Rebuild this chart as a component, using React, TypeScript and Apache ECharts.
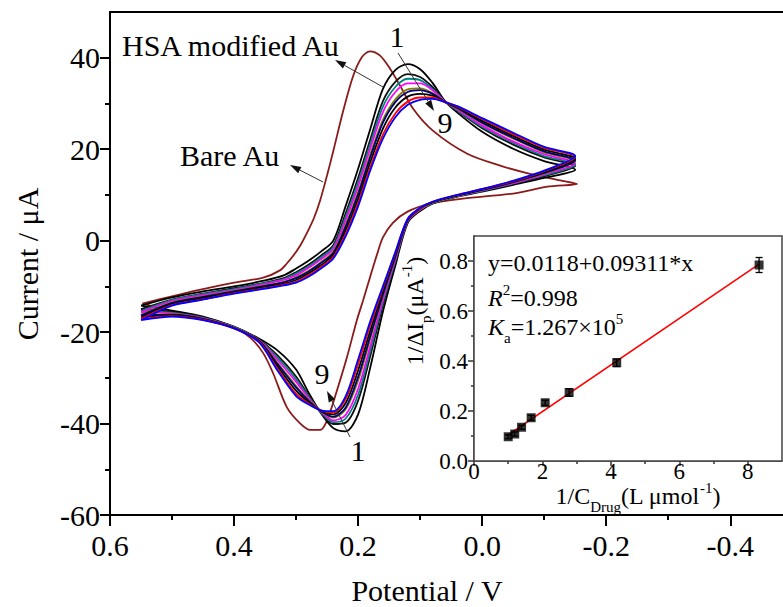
import React, { useEffect, useRef } from "react";
import * as echarts from "echarts";

const FONT = "'Liberation Serif', 'Times New Roman', serif";

// Potential steps (V) of the forward (anodic) and reverse (cathodic) sweeps
const anodicPotential = [0.55, 0.5, 0.45, 0.4, 0.35, 0.32, 0.3, 0.28, 0.26, 0.24, 0.22, 0.2, 0.18, 0.16, 0.14, 0.12, 0.1, 0.08, 0.06, 0.04, 0.0, -0.05, -0.1, -0.15];
const cathodicPotential = [-0.15, -0.1, -0.05, 0.0, 0.04, 0.08, 0.1, 0.12, 0.14, 0.16, 0.18, 0.2, 0.22, 0.24, 0.26, 0.28, 0.3, 0.33, 0.36, 0.4, 0.45, 0.5, 0.55];

// HSA modified Au electrode, scans 1..9 (current in uA)
const hsa1Anodic = [-14.2, -12.4, -11.1, -10.0, -8.7, -7.6, -6.1, -4.4, -2.4, 0.0, 7.6, 15.7, 24.6, 33.2, 37.3, 38.6, 37.5, 34.5, 30.5, 28.0, 23.8, 20.1, 17.4, 15.5];
const hsa1Cathodic = [15.5, 13.7, 12.2, 10.7, 9.6, 8.1, 6.5, 3.9, -5.5, -15.5, -27.5, -38.0, -41.7, -41.0, -37.7, -33.2, -28.2, -24.0, -21.4, -18.8, -16.6, -15.3, -14.2];
const hsa2Anodic = [-15.0, -12.9, -11.6, -10.4, -9.2, -8.2, -6.9, -5.3, -3.3, -1.0, 6.0, 13.7, 22.3, 30.5, 34.7, 36.4, 35.8, 33.6, 30.5, 28.4, 24.6, 21.0, 18.2, 16.3];
const hsa2Cathodic = [16.3, 14.1, 12.4, 10.9, 9.7, 8.2, 6.7, 4.1, -4.8, -14.1, -25.0, -35.0, -39.8, -40.1, -37.6, -33.9, -29.7, -25.1, -21.6, -18.9, -16.8, -15.6, -15.0];
const hsa3Anodic = [-15.4, -13.0, -11.7, -10.6, -9.3, -8.4, -7.2, -5.7, -3.7, -1.4, 5.2, 12.7, 21.3, 29.3, 33.6, 35.4, 35.1, 33.2, 30.4, 28.5, 24.9, 21.4, 18.5, 16.6];
const hsa3Cathodic = [16.6, 14.3, 12.5, 10.9, 9.7, 8.2, 6.8, 4.2, -4.4, -13.5, -23.9, -33.7, -38.9, -39.7, -37.5, -34.1, -30.3, -25.6, -21.7, -18.9, -16.9, -15.8, -15.4];
const hsa4Anodic = [-15.7, -13.2, -11.9, -10.8, -9.5, -8.6, -7.6, -6.0, -4.1, -1.8, 4.5, 11.8, 20.3, 28.1, 32.5, 34.4, 34.4, 32.9, 30.4, 28.7, 25.2, 21.7, 18.9, 16.9];
const hsa4Cathodic = [16.9, 14.5, 12.6, 11.0, 9.8, 8.3, 6.8, 4.3, -4.1, -12.9, -22.8, -32.4, -38.1, -39.3, -37.4, -34.4, -30.9, -26.1, -21.8, -19.0, -17.0, -15.9, -15.7];
const hsa5Anodic = [-16.2, -13.5, -12.2, -11.0, -9.8, -9.0, -8.0, -6.6, -4.7, -2.4, 3.5, 10.6, 19.0, 26.4, 30.9, 33.1, 33.3, 32.3, 30.4, 28.9, 25.7, 22.3, 19.3, 17.4];
const hsa5Cathodic = [17.4, 14.7, 12.8, 11.1, 9.8, 8.3, 6.9, 4.5, -3.6, -12.1, -21.3, -30.6, -36.9, -38.7, -37.3, -34.8, -31.8, -26.7, -21.9, -19.0, -17.1, -16.1, -16.2];
const hsa6Anodic = [-16.4, -13.6, -12.3, -11.1, -9.9, -9.1, -8.2, -6.8, -4.9, -2.7, 3.1, 10.1, 18.4, 25.8, 30.3, 32.5, 32.9, 32.1, 30.4, 29.0, 25.8, 22.5, 19.5, 17.5];
const hsa6Cathodic = [17.5, 14.8, 12.8, 11.1, 9.9, 8.4, 7.0, 4.5, -3.5, -11.8, -20.7, -29.8, -36.5, -38.5, -37.3, -35.0, -32.1, -27.0, -21.9, -19.1, -17.1, -16.2, -16.4];
const hsa7Anodic = [-16.8, -13.8, -12.5, -11.3, -10.1, -9.4, -8.6, -7.2, -5.4, -3.1, 2.3, 9.1, 17.3, 24.5, 29.1, 31.5, 32.1, 31.7, 30.3, 29.1, 26.2, 22.9, 19.9, 17.9];
const hsa7Cathodic = [17.9, 15.0, 12.9, 11.2, 9.9, 8.4, 7.1, 4.6, -3.1, -11.1, -19.5, -28.4, -35.5, -38.0, -37.2, -35.3, -32.8, -27.5, -22.0, -19.1, -17.2, -16.3, -16.8];
const hsa8Anodic = [-17.1, -14.1, -12.8, -11.5, -10.4, -9.6, -9.0, -7.6, -5.8, -3.6, 1.5, 8.2, 16.2, 23.2, 27.8, 30.4, 31.3, 31.3, 30.3, 29.3, 26.6, 23.3, 20.3, 18.3];
const hsa8Cathodic = [18.3, 15.2, 13.0, 11.3, 10.0, 8.5, 7.1, 4.7, -2.7, -10.4, -18.3, -27.0, -34.6, -37.6, -37.1, -35.6, -33.5, -28.0, -22.1, -19.2, -17.3, -16.5, -17.1];
const hsa9Anodic = [-17.4, -14.2, -12.9, -11.6, -10.5, -9.8, -9.2, -7.9, -6.1, -3.9, 1.0, 7.5, 15.5, 22.3, 27.0, 29.7, 30.8, 31.0, 30.3, 29.4, 26.8, 23.6, 20.5, 18.5];
const hsa9Cathodic = [18.5, 15.3, 13.1, 11.3, 10.0, 8.5, 7.2, 4.8, -2.5, -10.0, -17.5, -26.0, -34.0, -37.3, -37.1, -35.8, -34.0, -28.4, -22.2, -19.2, -17.4, -16.6, -17.4];

const hsaColors = ["#000000", "#111111", "#008080", "#ff00ff", "#808000", "#000080", "#000000", "#ff0000", "#0000ff"];

// Bare Au electrode, [potential V, current uA]
const bareAnodic = [
  [0.548, -13.8], [0.46, -10.9], [0.4, -9.2], [0.353, -8.1], [0.326, -6.5], [0.315, -5.0], [0.304, -3.2],
  [0.293, -1.0], [0.282, 1.8], [0.271, 5.0], [0.261, 8.9], [0.25, 14.3], [0.24, 19.6], [0.224, 28.4],
  [0.208, 36.0], [0.194, 40.1], [0.181, 41.4], [0.165, 40.5], [0.148, 37.5], [0.132, 33.8], [0.111, 28.8],
  [0.079, 24.0], [0.024, 19.0], [-0.029, 16.4], [-0.077, 14.6], [-0.121, 13.3], [-0.153, 12.4],
];
const bareCathodic = [
  [-0.153, 12.4], [-0.105, 11.8], [-0.05, 10.3], [0.031, 9.2], [0.084, 8.1], [0.121, 6.3], [0.144, 3.9],
  [0.16, 0.7], [0.169, -2.8], [0.181, -8.1], [0.192, -13.1], [0.202, -17.4], [0.218, -25.5], [0.234, -32.7],
  [0.25, -39.3], [0.261, -41.4], [0.277, -41.4], [0.294, -39.9], [0.315, -36.4], [0.337, -29.0],
  [0.353, -24.6], [0.374, -21.2], [0.402, -19.0], [0.455, -16.8], [0.503, -15.3], [0.548, -13.8],
];

// Main axes ticks
const potentialTicks = [0.6, 0.4, 0.2, 0.0, -0.2, -0.4];
const potentialMinorTicks = [0.5, 0.3, 0.1, -0.1, -0.3];
const currentTicks = [-60, -40, -20, 0, 20, 40];
const currentMinorTicks = [-50, -30, -10, 10, 30];

// Inset: double-reciprocal plot
const inverseConc = [1.0, 1.19, 1.39, 1.67, 2.08, 2.78, 4.17, 8.33];
const inversePeakCurrent = [0.097, 0.108, 0.135, 0.173, 0.233, 0.274, 0.393, 0.784];
const peakCurrentError = [0.008, 0.008, 0.008, 0.01, 0.01, 0.015, 0.015, 0.03];
const FIT_INTERCEPT = 0.0118;
const FIT_SLOPE = 0.09311;
const fitRange = [0.95, 8.33];
const insetXTicks = [0, 2, 4, 6, 8];
const insetXMinorTicks = [1, 3, 5, 7];
const insetYTicks = [0, 0.2, 0.4, 0.6, 0.8];
const insetYMinorTicks = [0.1, 0.3, 0.5, 0.7];

const hsaScans = [
  [hsa1Anodic, hsa1Cathodic], [hsa2Anodic, hsa2Cathodic], [hsa3Anodic, hsa3Cathodic],
  [hsa4Anodic, hsa4Cathodic], [hsa5Anodic, hsa5Cathodic], [hsa6Anodic, hsa6Cathodic],
  [hsa7Anodic, hsa7Cathodic], [hsa8Anodic, hsa8Cathodic], [hsa9Anodic, hsa9Cathodic],
];

function loop(anodic: number[], cathodic: number[]) {
  return [
    ...anodicPotential.map((v, i) => [v, anodic[i]]),
    ...cathodicPotential.slice(1).map((v, i) => [v, cathodic[i + 1]]),
  ];
}

function arrow(x1: number, y1: number, x2: number, y2: number) {
  const ang = Math.atan2(y2 - y1, x2 - x1);
  const L = 11;
  const W = 3.5;
  const bx = x2 - L * Math.cos(ang);
  const by = y2 - L * Math.sin(ang);
  const px = -Math.sin(ang) * W;
  const py = Math.cos(ang) * W;
  return [
    { type: "line", shape: { x1, y1, x2: bx, y2: by }, style: { stroke: "#333", lineWidth: 1 }, z: 50 },
    {
      type: "polygon",
      shape: { points: [[x2, y2], [bx + px, by + py], [bx - px, by - py]] },
      style: { fill: "#111" },
      z: 50,
    },
  ];
}

function text(t: string, x: number, y: number, size = 30, align = "center", rotation = 0) {
  return {
    type: "text",
    x,
    y,
    rotation,
    z: 60,
    style: { text: t, fontSize: size, fontFamily: FONT, fill: "#000", align, verticalAlign: "middle" },
  };
}

// A line of text made of runs with their own size / baseline shift (sub- and superscripts)
type Run = { t: string; size?: number; dy?: number; italic?: boolean };
let measureCtx: CanvasRenderingContext2D | null = null;
function runWidth(r: Run) {
  if (!measureCtx) measureCtx = document.createElement("canvas").getContext("2d");
  const size = r.size ?? 24;
  measureCtx!.font = `${r.italic ? "italic " : ""}${size}px ${FONT}`;
  return measureCtx!.measureText(r.t).width;
}
function runs(list: Run[], x: number, y: number, align = "left", rotation = 0) {
  const widths = list.map(runWidth);
  const total = widths.reduce((a, b) => a + b, 0);
  let cx = align === "center" ? -total / 2 : 0;
  const children = list.map((r, i) => {
    const el = {
      type: "text",
      x: cx,
      y: r.dy ?? 0,
      z: 60,
      style: {
        text: r.t,
        fontSize: r.size ?? 24,
        fontFamily: FONT,
        fontStyle: r.italic ? "italic" : "normal",
        fill: "#000",
        align: "left",
        verticalAlign: "middle",
      },
    };
    cx += widths[i];
    return el;
  });
  return { type: "group", x, y, rotation, z: 60, children };
}

const SUB = 11;
const SUP = -8;

export default function App() {
  const ref = useRef<HTMLDivElement>(null);

  useEffect(() => {
    if (!ref.current) return;
    const chart = echarts.init(ref.current, undefined, { renderer: "svg" });

    const mainLine = { onZero: false, lineStyle: { color: "#000", width: 2 } };
    const insetLine = { onZero: false, lineStyle: { color: "#333", width: 1.5 } };
    const noLine = { show: false, onZero: false };
    const mainTick = (values: number[], length: number) => ({
      show: true, inside: false, length, customValues: values, lineStyle: { color: "#000", width: 2 },
    });
    const insetTick = (values: number[], length: number) => ({
      show: true, inside: false, length, customValues: values, lineStyle: { color: "#333", width: 1.5 },
    });
    const off = { show: false };

    const series: any[] = [
      {
        type: "line",
        name: "Bare Au",
        xAxisIndex: 0,
        yAxisIndex: 0,
        data: [...bareAnodic, ...bareCathodic.slice(1)],
        smooth: 0.3,
        showSymbol: false,
        lineStyle: { color: "#8b1a1a", width: 1.8 },
        z: 3,
      },
      ...hsaScans.map(([a, c], k) => ({
        type: "line",
        name: `HSA ${k + 1}`,
        xAxisIndex: 0,
        yAxisIndex: 0,
        data: loop(a, c),
        smooth: 0.3,
        showSymbol: false,
        lineStyle: { color: hsaColors[k], width: 1.8 },
        z: 4,
      })),
      {
        type: "line",
        name: "fit",
        xAxisIndex: 3,
        yAxisIndex: 2,
        data: fitRange.map((x) => [x, FIT_INTERCEPT + FIT_SLOPE * x]),
        showSymbol: false,
        lineStyle: { color: "#ff0000", width: 1.6 },
        z: 5,
      },
      {
        type: "custom",
        name: "error",
        xAxisIndex: 3,
        yAxisIndex: 2,
        data: inverseConc.map((x, i) => [x, inversePeakCurrent[i], peakCurrentError[i]]),
        encode: { x: 0, y: 1 },
        renderItem: (_p: any, api: any) => {
          const x = api.value(0);
          const y = api.value(1);
          const e = api.value(2);
          const top = api.coord([x, y + e]);
          const bot = api.coord([x, y - e]);
          const w = 3.5;
          const st = { stroke: "#000", lineWidth: 1.3 };
          return {
            type: "group",
            children: [
              { type: "line", shape: { x1: top[0], y1: top[1], x2: bot[0], y2: bot[1] }, style: st },
              { type: "line", shape: { x1: top[0] - w, y1: top[1], x2: top[0] + w, y2: top[1] }, style: st },
              { type: "line", shape: { x1: bot[0] - w, y1: bot[1], x2: bot[0] + w, y2: bot[1] }, style: st },
            ],
          };
        },
        z: 6,
      },
      {
        type: "scatter",
        name: "points",
        xAxisIndex: 3,
        yAxisIndex: 2,
        data: inverseConc.map((x, i) => [x, inversePeakCurrent[i]]),
        symbol: "rect",
        symbolSize: 9,
        itemStyle: { color: "#000" },
        z: 7,
      },
    ];

    const option: any = {
      animation: false,
      backgroundColor: "#fff",
      textStyle: { fontFamily: FONT, color: "#000" },
      grid: [
        { left: 110, top: 12, right: 0, bottom: 92 },
        { left: 474, top: 236, right: 1, bottom: 146, show: true, backgroundColor: "#fff", borderColor: "#444", borderWidth: 1.5, z: 1 },
      ],
      xAxis: [
        {
          gridIndex: 0, type: "value", inverse: true, min: -0.485, max: 0.6, position: "bottom",
          axisLine: mainLine, axisTick: mainTick(potentialTicks, 11), axisLabel: off, splitLine: off,
        },
        {
          gridIndex: 0, type: "value", inverse: true, min: -0.485, max: 0.6, position: "bottom",
          axisLine: noLine, axisTick: mainTick(potentialMinorTicks, 5), axisLabel: off, splitLine: off,
        },
        {
          gridIndex: 0, type: "value", inverse: true, min: -0.485, max: 0.6, position: "top",
          axisLine: mainLine, axisTick: off, axisLabel: off, splitLine: off,
        },
        {
          gridIndex: 1, type: "value", min: 0, max: 9, position: "bottom",
          axisLine: insetLine, axisTick: insetTick(insetXTicks, 5), axisLabel: off, splitLine: off,
        },
        {
          gridIndex: 1, type: "value", min: 0, max: 9, position: "bottom",
          axisLine: noLine, axisTick: insetTick(insetXMinorTicks, 3), axisLabel: off, splitLine: off,
        },
      ],
      yAxis: [
        {
          gridIndex: 0, type: "value", min: -60, max: 50, position: "left",
          axisLine: mainLine, axisTick: mainTick(currentTicks, 10), axisLabel: off, splitLine: off,
        },
        {
          gridIndex: 0, type: "value", min: -60, max: 50, position: "left",
          axisLine: noLine, axisTick: mainTick(currentMinorTicks, 5), axisLabel: off, splitLine: off,
        },
        {
          gridIndex: 1, type: "value", min: 0, max: 0.9, position: "left",
          axisLine: insetLine, axisTick: insetTick(insetYTicks, 6), axisLabel: off, splitLine: off,
        },
        {
          gridIndex: 1, type: "value", min: 0, max: 0.9, position: "left",
          axisLine: noLine, axisTick: insetTick(insetYMinorTicks, 3), axisLabel: off, splitLine: off,
        },
      ],
      series,
    };

    chart.setOption(option);

    // Tick labels placed through the axes' own scales
    const main = { xAxisIndex: 0, yAxisIndex: 0 };
    const inset = { xAxisIndex: 3, yAxisIndex: 2 };
    const px = (finder: any, v: number[]) => chart.convertToPixel(finder, v) as number[];

    const tickLabels: any[] = [
      ...potentialTicks.map((v) => {
        const p = px(main, [v, -60]);
        return text(v.toFixed(1), p[0], p[1] + 30, 30, "center");
      }),
      ...currentTicks.map((v) => {
        const p = px(main, [0.6, v]);
        return text(String(v), p[0] - 10, p[1], 30, "right");
      }),
      ...insetXTicks.map((v) => {
        const p = px(inset, [v, 0]);
        return text(String(v), p[0], p[1] + 10, 23, "center");
      }),
      ...insetYTicks.map((v) => {
        const p = px(inset, [0, v]);
        return text(v.toFixed(1), p[0] - 6, p[1], 23, "right");
      }),
    ];

    chart.setOption({
      graphic: [
        ...tickLabels,
        text("Current / μA", 27, 264, 30, "center", Math.PI / 2),
        text("Potential / V", 427, 590),
        text("HSA modified Au", 122, 45, 30, "left"),
        text("Bare Au", 180, 155, 30, "left"),
        text("1", 397, 36),
        text("9", 445, 122),
        text("9", 322, 373),
        text("1", 358, 450),
        ...arrow(383, 87, 335, 60),
        ...arrow(323, 182, 290, 165),
        ...arrow(398, 53, 434, 111),
        ...arrow(350, 437, 327, 391),
        runs([{ t: "y=0.0118+0.09311*x" }], 488, 263),
        runs([{ t: "R", italic: true }, { t: "2", size: 15, dy: SUP }, { t: "=0.998" }], 488, 298),
        runs([{ t: "K", italic: true }, { t: "a", size: 15, dy: SUB }, { t: "=1.267×10" }, { t: "5", size: 15, dy: SUP }], 488, 327),
        runs(
          [{ t: "1/ΔI" }, { t: "p", size: 15, dy: SUB }, { t: "(μA" }, { t: "-1", size: 15, dy: SUP }, { t: ")" }],
          415, 311, "center", Math.PI / 2,
        ),
        runs(
          [{ t: "1/C" }, { t: "Drug", size: 15, dy: SUB }, { t: "(L μmol" }, { t: "-1", size: 15, dy: SUP }, { t: ")" }],
          638, 496, "center",
        ),
      ],
    });

    return () => chart.dispose();
  }, []);

  return (
    <div
      ref={ref}
      style={{ position: "fixed", left: 0, top: 0, width: 783, height: 607, background: "#fff" }}
    />
  );
}
